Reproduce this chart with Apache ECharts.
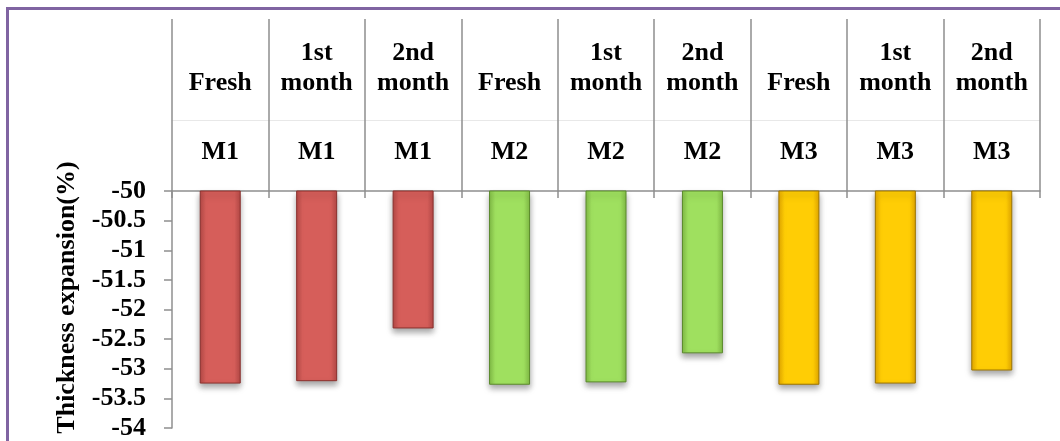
<!DOCTYPE html>
<html>
<head>
<meta charset="utf-8">
<script src="https://cdn.jsdelivr.net/npm/echarts@6/dist/echarts.min.js"></script>
<style>
  html, body { margin: 0; padding: 0; background: #ffffff; overflow: hidden; }
  #frame { position: absolute; left: 6px; top: 7px; width: 2000px; height: 2000px; border: 3.5px solid #8064A2; box-sizing: border-box; }
  #chart { position: absolute; left: 0; top: 0; width: 1060px; height: 441px; }
</style>
</head>
<body>
<div id="frame"></div>
<div id="chart"></div>
<script>
// ---- data ----
const periods = ['Fresh', '1st\nmonth', '2nd\nmonth', 'Fresh', '1st\nmonth', '2nd\nmonth', 'Fresh', '1st\nmonth', '2nd\nmonth'];
const materials = ['M1', 'M1', 'M1', 'M2', 'M2', 'M2', 'M3', 'M3', 'M3'];
const values = [-53.25, -53.21, -52.32, -53.27, -53.23, -52.74, -53.27, -53.25, -53.03];
const yMin = -54;
const yMax = -50;
const yStep = 0.5;
const yAxisTitle = 'Thickness expansion(%)';

// ---- styles ----
const palette = {
  M1: { edge: '#b84a47', mid: '#d65e5a', border: '#8a302d' },
  M2: { edge: '#84bf47', mid: '#9fe05f', border: '#5b8a2c' },
  M3: { edge: '#e8aa00', mid: '#ffcd05', border: '#9c7400' }
};
const font = 'Liberation Serif, Times New Roman, serif';
const gridGray = '#8f8f8f';

const barData = values.map(function (v, i) {
  const c = palette[materials[i]];
  return {
    value: v,
    itemStyle: {
      color: {
        type: 'linear', x: 0, y: 0, x2: 1, y2: 0,
        colorStops: [
          { offset: 0, color: c.edge },
          { offset: 0.15, color: c.mid },
          { offset: 0.85, color: c.mid },
          { offset: 1, color: c.edge }
        ]
      },
      borderColor: c.border,
      borderWidth: 1,
      shadowColor: 'rgba(0,0,0,0.35)',
      shadowBlur: 6,
      shadowOffsetY: 4
    }
  };
});

const chart = echarts.init(document.getElementById('chart'), null, { renderer: 'canvas' });
chart.setOption({
  animation: false,
  backgroundColor: 'transparent',
  grid: { left: 172, right: 20, top: 191, bottom: 13, containLabel: false, outerBoundsMode: 'none' },
  xAxis: [
    {
      type: 'category',
      position: 'top',
      data: materials,
      axisLine: { show: true, lineStyle: { color: gridGray, width: 1.5 } },
      axisTick: { show: true, inside: false, length: 172, interval: 0, lineStyle: { color: gridGray, width: 1.5 } },
      axisLabel: { interval: 0, margin: 24, color: '#000', fontFamily: font, fontWeight: 'bold', fontSize: 26, lineHeight: 30 }
    },
    {
      type: 'category',
      position: 'top',
      data: periods,
      axisLine: { show: false },
      axisTick: { show: true, inside: true, length: 7, interval: 0, lineStyle: { color: gridGray, width: 1.5 } },
      axisLabel: { interval: 0, margin: 93, color: '#000', fontFamily: font, fontWeight: 'bold', fontSize: 26, lineHeight: 30 }
    },
    {
      type: 'category',
      position: 'top',
      offset: 71,
      data: materials,
      axisLine: { show: true, lineStyle: { color: '#e8e8e8', width: 1 } },
      axisTick: { show: false },
      axisLabel: { show: false }
    }
  ],
  yAxis: {
    type: 'value',
    min: yMin,
    max: yMax,
    interval: yStep,
    name: yAxisTitle,
    nameLocation: 'middle',
    nameGap: 92,
    nameRotate: 90,
    nameTextStyle: { color: '#000', fontFamily: font, fontWeight: 'bold', fontSize: 26, padding: [0, 0, 0, 24] },
    axisLine: { show: true, lineStyle: { color: gridGray, width: 1.5 } },
    axisTick: { show: true, length: 8, lineStyle: { color: gridGray, width: 1.5 } },
    splitLine: { show: false },
    axisLabel: { margin: 26, color: '#000', fontFamily: font, fontWeight: 'bold', fontSize: 26 }
  },
  series: [{
    type: 'bar',
    xAxisIndex: 0,
    barWidth: 41,
    clip: true,
    data: barData
  }]
});
</script>
</body>
</html>
